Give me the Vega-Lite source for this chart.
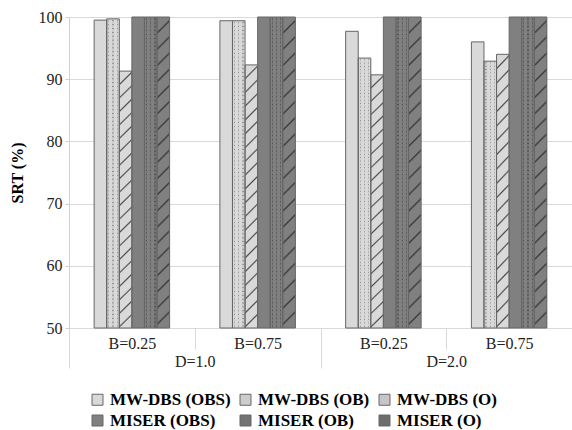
{
  "$schema": "https://vega.github.io/schema/vega-lite/v6.json",
  "width": 503,
  "height": 311,
  "autosize": {"type": "none"},
  "padding": {"left": 69, "top": 17, "right": 0, "bottom": 102},
  "config": {"font": "Liberation Serif", "view": {"stroke": null},
    "axis": {"labelFont": "Liberation Serif", "titleFont": "Liberation Serif"},
    "legend": {"labelFont": "Liberation Serif", "titleFont": "Liberation Serif"}},
  "data": {
    "values": [
      {"grp": "D=1.0|B=0.25", "D": "D=1.0", "series": "MW-DBS (OBS)", "value": 99.5},
      {"grp": "D=1.0|B=0.25", "D": "D=1.0", "series": "MW-DBS (OB)", "value": 99.7},
      {"grp": "D=1.0|B=0.25", "D": "D=1.0", "series": "MW-DBS (O)", "value": 91.3},
      {"grp": "D=1.0|B=0.25", "D": "D=1.0", "series": "MISER (OBS)", "value": 100},
      {"grp": "D=1.0|B=0.25", "D": "D=1.0", "series": "MISER (OB)", "value": 100},
      {"grp": "D=1.0|B=0.25", "D": "D=1.0", "series": "MISER (O)", "value": 100},
      {"grp": "D=1.0|B=0.75", "D": "D=1.0", "series": "MW-DBS (OBS)", "value": 99.4},
      {"grp": "D=1.0|B=0.75", "D": "D=1.0", "series": "MW-DBS (OB)", "value": 99.4},
      {"grp": "D=1.0|B=0.75", "D": "D=1.0", "series": "MW-DBS (O)", "value": 92.3},
      {"grp": "D=1.0|B=0.75", "D": "D=1.0", "series": "MISER (OBS)", "value": 100},
      {"grp": "D=1.0|B=0.75", "D": "D=1.0", "series": "MISER (OB)", "value": 100},
      {"grp": "D=1.0|B=0.75", "D": "D=1.0", "series": "MISER (O)", "value": 100},
      {"grp": "D=2.0|B=0.25", "D": "D=2.0", "series": "MW-DBS (OBS)", "value": 97.7},
      {"grp": "D=2.0|B=0.25", "D": "D=2.0", "series": "MW-DBS (OB)", "value": 93.4},
      {"grp": "D=2.0|B=0.25", "D": "D=2.0", "series": "MW-DBS (O)", "value": 90.7},
      {"grp": "D=2.0|B=0.25", "D": "D=2.0", "series": "MISER (OBS)", "value": 100},
      {"grp": "D=2.0|B=0.25", "D": "D=2.0", "series": "MISER (OB)", "value": 100},
      {"grp": "D=2.0|B=0.25", "D": "D=2.0", "series": "MISER (O)", "value": 100},
      {"grp": "D=2.0|B=0.75", "D": "D=2.0", "series": "MW-DBS (OBS)", "value": 96.0},
      {"grp": "D=2.0|B=0.75", "D": "D=2.0", "series": "MW-DBS (OB)", "value": 92.9},
      {"grp": "D=2.0|B=0.75", "D": "D=2.0", "series": "MW-DBS (O)", "value": 94.0},
      {"grp": "D=2.0|B=0.75", "D": "D=2.0", "series": "MISER (OBS)", "value": 100},
      {"grp": "D=2.0|B=0.75", "D": "D=2.0", "series": "MISER (OB)", "value": 100},
      {"grp": "D=2.0|B=0.75", "D": "D=2.0", "series": "MISER (O)", "value": 100}
    ]
  },
  "layer": [
    {
      "encoding": {
        "x": {"field": "grp", "type": "nominal", "scale": {"domain": ["D=1.0|B=0.25", "D=1.0|B=0.75", "D=2.0|B=0.25", "D=2.0|B=0.75"], "paddingInner": 0.4, "paddingOuter": 0.2}, "axis": null},
        "xOffset": {"field": "series", "type": "nominal", "scale": {"domain": ["MW-DBS (OBS)", "MW-DBS (OB)", "MW-DBS (O)", "MISER (OBS)", "MISER (OB)", "MISER (O)"]}},
        "y": {"field": "value", "type": "quantitative", "scale": {"domain": [50, 100]},
          "axis": {"values": [50, 60, 70, 80, 90, 100], "title": "SRT (%)", "titleFont": "Liberation Serif", "titleFontSize": 16, "titleFontWeight": "bold", "titleColor": "#000", "titlePadding": 13, "labelFont": "Liberation Serif", "labelFontSize": 16, "labelColor": "#222", "labelPadding": 3, "tickSize": 4, "tickColor": "#d0d0d0", "domainColor": "#d0d0d0", "grid": true, "gridColor": "#d9d9d9"}},
        "y2": {"datum": 50}
      },
      "layer": [
        {
          "mark": {"type": "bar"},
          "encoding": {
            "color": {"field": "series", "type": "nominal",
              "scale": {"domain": ["MW-DBS (OBS)", "MW-DBS (OB)", "MW-DBS (O)", "MISER (OBS)", "MISER (OB)", "MISER (O)"],
                "range": ["#d9d9d9", "#cdcdcd", "#c6c6c6", "#808080", "#737373", "#6c6c6c"]},
              "legend": {"orient": "none", "legendX": 20, "legendY": 374, "direction": "horizontal", "columns": 3, "title": null, "symbolType": "square", "symbolSize": 121, "symbolStrokeColor": "#666", "symbolStrokeWidth": 1, "labelFont": "Liberation Serif", "labelFontSize": 17, "labelFontWeight": "bold", "labelColor": "#000", "columnPadding": 6, "rowPadding": 3, "labelOffset": 4, "padding": 0}}
          }
        },
        {
          "transform": [{"filter": "datum.series === 'MW-DBS (OB)' || datum.series === 'MISER (OB)'"}],
          "mark": {"type": "bar", "fill": {"gradient": "linear", "x1": 0, "y1": 0, "x2": 0, "y2": 1, "stops": [
            {"offset": 0, "color": "rgba(0,0,0,0)"},
            {"offset": 0.00325, "color": "rgba(0,0,0,0)"}, {"offset": 0.00625, "color": "rgba(0,0,0,0.3)"}, {"offset": 0.00925, "color": "rgba(0,0,0,0)"},
            {"offset": 0.01575, "color": "rgba(0,0,0,0)"}, {"offset": 0.01875, "color": "rgba(0,0,0,0.3)"}, {"offset": 0.02175, "color": "rgba(0,0,0,0)"},
            {"offset": 0.02825, "color": "rgba(0,0,0,0)"}, {"offset": 0.03125, "color": "rgba(0,0,0,0.3)"}, {"offset": 0.03425, "color": "rgba(0,0,0,0)"},
            {"offset": 0.04075, "color": "rgba(0,0,0,0)"}, {"offset": 0.04375, "color": "rgba(0,0,0,0.3)"}, {"offset": 0.04675, "color": "rgba(0,0,0,0)"},
            {"offset": 0.05325, "color": "rgba(0,0,0,0)"}, {"offset": 0.05625, "color": "rgba(0,0,0,0.3)"}, {"offset": 0.05925, "color": "rgba(0,0,0,0)"},
            {"offset": 0.06575, "color": "rgba(0,0,0,0)"}, {"offset": 0.06875, "color": "rgba(0,0,0,0.3)"}, {"offset": 0.07175, "color": "rgba(0,0,0,0)"},
            {"offset": 0.07825, "color": "rgba(0,0,0,0)"}, {"offset": 0.08125, "color": "rgba(0,0,0,0.3)"}, {"offset": 0.08425, "color": "rgba(0,0,0,0)"},
            {"offset": 0.09075, "color": "rgba(0,0,0,0)"}, {"offset": 0.09375, "color": "rgba(0,0,0,0.3)"}, {"offset": 0.09675, "color": "rgba(0,0,0,0)"},
            {"offset": 0.10325, "color": "rgba(0,0,0,0)"}, {"offset": 0.10625, "color": "rgba(0,0,0,0.3)"}, {"offset": 0.10925, "color": "rgba(0,0,0,0)"},
            {"offset": 0.11575, "color": "rgba(0,0,0,0)"}, {"offset": 0.11875, "color": "rgba(0,0,0,0.3)"}, {"offset": 0.12175, "color": "rgba(0,0,0,0)"},
            {"offset": 0.12825, "color": "rgba(0,0,0,0)"}, {"offset": 0.13125, "color": "rgba(0,0,0,0.3)"}, {"offset": 0.13425, "color": "rgba(0,0,0,0)"},
            {"offset": 0.14075, "color": "rgba(0,0,0,0)"}, {"offset": 0.14375, "color": "rgba(0,0,0,0.3)"}, {"offset": 0.14675, "color": "rgba(0,0,0,0)"},
            {"offset": 0.15325, "color": "rgba(0,0,0,0)"}, {"offset": 0.15625, "color": "rgba(0,0,0,0.3)"}, {"offset": 0.15925, "color": "rgba(0,0,0,0)"},
            {"offset": 0.16575, "color": "rgba(0,0,0,0)"}, {"offset": 0.16875, "color": "rgba(0,0,0,0.3)"}, {"offset": 0.17175, "color": "rgba(0,0,0,0)"},
            {"offset": 0.17825, "color": "rgba(0,0,0,0)"}, {"offset": 0.18125, "color": "rgba(0,0,0,0.3)"}, {"offset": 0.18425, "color": "rgba(0,0,0,0)"},
            {"offset": 0.19075, "color": "rgba(0,0,0,0)"}, {"offset": 0.19375, "color": "rgba(0,0,0,0.3)"}, {"offset": 0.19675, "color": "rgba(0,0,0,0)"},
            {"offset": 0.20325, "color": "rgba(0,0,0,0)"}, {"offset": 0.20625, "color": "rgba(0,0,0,0.3)"}, {"offset": 0.20925, "color": "rgba(0,0,0,0)"},
            {"offset": 0.21575, "color": "rgba(0,0,0,0)"}, {"offset": 0.21875, "color": "rgba(0,0,0,0.3)"}, {"offset": 0.22175, "color": "rgba(0,0,0,0)"},
            {"offset": 0.22825, "color": "rgba(0,0,0,0)"}, {"offset": 0.23125, "color": "rgba(0,0,0,0.3)"}, {"offset": 0.23425, "color": "rgba(0,0,0,0)"},
            {"offset": 0.24075, "color": "rgba(0,0,0,0)"}, {"offset": 0.24375, "color": "rgba(0,0,0,0.3)"}, {"offset": 0.24675, "color": "rgba(0,0,0,0)"},
            {"offset": 0.25325, "color": "rgba(0,0,0,0)"}, {"offset": 0.25625, "color": "rgba(0,0,0,0.3)"}, {"offset": 0.25925, "color": "rgba(0,0,0,0)"},
            {"offset": 0.26575, "color": "rgba(0,0,0,0)"}, {"offset": 0.26875, "color": "rgba(0,0,0,0.3)"}, {"offset": 0.27175, "color": "rgba(0,0,0,0)"},
            {"offset": 0.27825, "color": "rgba(0,0,0,0)"}, {"offset": 0.28125, "color": "rgba(0,0,0,0.3)"}, {"offset": 0.28425, "color": "rgba(0,0,0,0)"},
            {"offset": 0.29075, "color": "rgba(0,0,0,0)"}, {"offset": 0.29375, "color": "rgba(0,0,0,0.3)"}, {"offset": 0.29675, "color": "rgba(0,0,0,0)"},
            {"offset": 0.30325, "color": "rgba(0,0,0,0)"}, {"offset": 0.30625, "color": "rgba(0,0,0,0.3)"}, {"offset": 0.30925, "color": "rgba(0,0,0,0)"},
            {"offset": 0.31575, "color": "rgba(0,0,0,0)"}, {"offset": 0.31875, "color": "rgba(0,0,0,0.3)"}, {"offset": 0.32175, "color": "rgba(0,0,0,0)"},
            {"offset": 0.32825, "color": "rgba(0,0,0,0)"}, {"offset": 0.33125, "color": "rgba(0,0,0,0.3)"}, {"offset": 0.33425, "color": "rgba(0,0,0,0)"},
            {"offset": 0.34075, "color": "rgba(0,0,0,0)"}, {"offset": 0.34375, "color": "rgba(0,0,0,0.3)"}, {"offset": 0.34675, "color": "rgba(0,0,0,0)"},
            {"offset": 0.35325, "color": "rgba(0,0,0,0)"}, {"offset": 0.35625, "color": "rgba(0,0,0,0.3)"}, {"offset": 0.35925, "color": "rgba(0,0,0,0)"},
            {"offset": 0.36575, "color": "rgba(0,0,0,0)"}, {"offset": 0.36875, "color": "rgba(0,0,0,0.3)"}, {"offset": 0.37175, "color": "rgba(0,0,0,0)"},
            {"offset": 0.37825, "color": "rgba(0,0,0,0)"}, {"offset": 0.38125, "color": "rgba(0,0,0,0.3)"}, {"offset": 0.38425, "color": "rgba(0,0,0,0)"},
            {"offset": 0.39075, "color": "rgba(0,0,0,0)"}, {"offset": 0.39375, "color": "rgba(0,0,0,0.3)"}, {"offset": 0.39675, "color": "rgba(0,0,0,0)"},
            {"offset": 0.40325, "color": "rgba(0,0,0,0)"}, {"offset": 0.40625, "color": "rgba(0,0,0,0.3)"}, {"offset": 0.40925, "color": "rgba(0,0,0,0)"},
            {"offset": 0.41575, "color": "rgba(0,0,0,0)"}, {"offset": 0.41875, "color": "rgba(0,0,0,0.3)"}, {"offset": 0.42175, "color": "rgba(0,0,0,0)"},
            {"offset": 0.42825, "color": "rgba(0,0,0,0)"}, {"offset": 0.43125, "color": "rgba(0,0,0,0.3)"}, {"offset": 0.43425, "color": "rgba(0,0,0,0)"},
            {"offset": 0.44075, "color": "rgba(0,0,0,0)"}, {"offset": 0.44375, "color": "rgba(0,0,0,0.3)"}, {"offset": 0.44675, "color": "rgba(0,0,0,0)"},
            {"offset": 0.45325, "color": "rgba(0,0,0,0)"}, {"offset": 0.45625, "color": "rgba(0,0,0,0.3)"}, {"offset": 0.45925, "color": "rgba(0,0,0,0)"},
            {"offset": 0.46575, "color": "rgba(0,0,0,0)"}, {"offset": 0.46875, "color": "rgba(0,0,0,0.3)"}, {"offset": 0.47175, "color": "rgba(0,0,0,0)"},
            {"offset": 0.47825, "color": "rgba(0,0,0,0)"}, {"offset": 0.48125, "color": "rgba(0,0,0,0.3)"}, {"offset": 0.48425, "color": "rgba(0,0,0,0)"},
            {"offset": 0.49075, "color": "rgba(0,0,0,0)"}, {"offset": 0.49375, "color": "rgba(0,0,0,0.3)"}, {"offset": 0.49675, "color": "rgba(0,0,0,0)"},
            {"offset": 0.50325, "color": "rgba(0,0,0,0)"}, {"offset": 0.50625, "color": "rgba(0,0,0,0.3)"}, {"offset": 0.50925, "color": "rgba(0,0,0,0)"},
            {"offset": 0.51575, "color": "rgba(0,0,0,0)"}, {"offset": 0.51875, "color": "rgba(0,0,0,0.3)"}, {"offset": 0.52175, "color": "rgba(0,0,0,0)"},
            {"offset": 0.52825, "color": "rgba(0,0,0,0)"}, {"offset": 0.53125, "color": "rgba(0,0,0,0.3)"}, {"offset": 0.53425, "color": "rgba(0,0,0,0)"},
            {"offset": 0.54075, "color": "rgba(0,0,0,0)"}, {"offset": 0.54375, "color": "rgba(0,0,0,0.3)"}, {"offset": 0.54675, "color": "rgba(0,0,0,0)"},
            {"offset": 0.55325, "color": "rgba(0,0,0,0)"}, {"offset": 0.55625, "color": "rgba(0,0,0,0.3)"}, {"offset": 0.55925, "color": "rgba(0,0,0,0)"},
            {"offset": 0.56575, "color": "rgba(0,0,0,0)"}, {"offset": 0.56875, "color": "rgba(0,0,0,0.3)"}, {"offset": 0.57175, "color": "rgba(0,0,0,0)"},
            {"offset": 0.57825, "color": "rgba(0,0,0,0)"}, {"offset": 0.58125, "color": "rgba(0,0,0,0.3)"}, {"offset": 0.58425, "color": "rgba(0,0,0,0)"},
            {"offset": 0.59075, "color": "rgba(0,0,0,0)"}, {"offset": 0.59375, "color": "rgba(0,0,0,0.3)"}, {"offset": 0.59675, "color": "rgba(0,0,0,0)"},
            {"offset": 0.60325, "color": "rgba(0,0,0,0)"}, {"offset": 0.60625, "color": "rgba(0,0,0,0.3)"}, {"offset": 0.60925, "color": "rgba(0,0,0,0)"},
            {"offset": 0.61575, "color": "rgba(0,0,0,0)"}, {"offset": 0.61875, "color": "rgba(0,0,0,0.3)"}, {"offset": 0.62175, "color": "rgba(0,0,0,0)"},
            {"offset": 0.62825, "color": "rgba(0,0,0,0)"}, {"offset": 0.63125, "color": "rgba(0,0,0,0.3)"}, {"offset": 0.63425, "color": "rgba(0,0,0,0)"},
            {"offset": 0.64075, "color": "rgba(0,0,0,0)"}, {"offset": 0.64375, "color": "rgba(0,0,0,0.3)"}, {"offset": 0.64675, "color": "rgba(0,0,0,0)"},
            {"offset": 0.65325, "color": "rgba(0,0,0,0)"}, {"offset": 0.65625, "color": "rgba(0,0,0,0.3)"}, {"offset": 0.65925, "color": "rgba(0,0,0,0)"},
            {"offset": 0.66575, "color": "rgba(0,0,0,0)"}, {"offset": 0.66875, "color": "rgba(0,0,0,0.3)"}, {"offset": 0.67175, "color": "rgba(0,0,0,0)"},
            {"offset": 0.67825, "color": "rgba(0,0,0,0)"}, {"offset": 0.68125, "color": "rgba(0,0,0,0.3)"}, {"offset": 0.68425, "color": "rgba(0,0,0,0)"},
            {"offset": 0.69075, "color": "rgba(0,0,0,0)"}, {"offset": 0.69375, "color": "rgba(0,0,0,0.3)"}, {"offset": 0.69675, "color": "rgba(0,0,0,0)"},
            {"offset": 0.70325, "color": "rgba(0,0,0,0)"}, {"offset": 0.70625, "color": "rgba(0,0,0,0.3)"}, {"offset": 0.70925, "color": "rgba(0,0,0,0)"},
            {"offset": 0.71575, "color": "rgba(0,0,0,0)"}, {"offset": 0.71875, "color": "rgba(0,0,0,0.3)"}, {"offset": 0.72175, "color": "rgba(0,0,0,0)"},
            {"offset": 0.72825, "color": "rgba(0,0,0,0)"}, {"offset": 0.73125, "color": "rgba(0,0,0,0.3)"}, {"offset": 0.73425, "color": "rgba(0,0,0,0)"},
            {"offset": 0.74075, "color": "rgba(0,0,0,0)"}, {"offset": 0.74375, "color": "rgba(0,0,0,0.3)"}, {"offset": 0.74675, "color": "rgba(0,0,0,0)"},
            {"offset": 0.75325, "color": "rgba(0,0,0,0)"}, {"offset": 0.75625, "color": "rgba(0,0,0,0.3)"}, {"offset": 0.75925, "color": "rgba(0,0,0,0)"},
            {"offset": 0.76575, "color": "rgba(0,0,0,0)"}, {"offset": 0.76875, "color": "rgba(0,0,0,0.3)"}, {"offset": 0.77175, "color": "rgba(0,0,0,0)"},
            {"offset": 0.77825, "color": "rgba(0,0,0,0)"}, {"offset": 0.78125, "color": "rgba(0,0,0,0.3)"}, {"offset": 0.78425, "color": "rgba(0,0,0,0)"},
            {"offset": 0.79075, "color": "rgba(0,0,0,0)"}, {"offset": 0.79375, "color": "rgba(0,0,0,0.3)"}, {"offset": 0.79675, "color": "rgba(0,0,0,0)"},
            {"offset": 0.80325, "color": "rgba(0,0,0,0)"}, {"offset": 0.80625, "color": "rgba(0,0,0,0.3)"}, {"offset": 0.80925, "color": "rgba(0,0,0,0)"},
            {"offset": 0.81575, "color": "rgba(0,0,0,0)"}, {"offset": 0.81875, "color": "rgba(0,0,0,0.3)"}, {"offset": 0.82175, "color": "rgba(0,0,0,0)"},
            {"offset": 0.82825, "color": "rgba(0,0,0,0)"}, {"offset": 0.83125, "color": "rgba(0,0,0,0.3)"}, {"offset": 0.83425, "color": "rgba(0,0,0,0)"},
            {"offset": 0.84075, "color": "rgba(0,0,0,0)"}, {"offset": 0.84375, "color": "rgba(0,0,0,0.3)"}, {"offset": 0.84675, "color": "rgba(0,0,0,0)"},
            {"offset": 0.85325, "color": "rgba(0,0,0,0)"}, {"offset": 0.85625, "color": "rgba(0,0,0,0.3)"}, {"offset": 0.85925, "color": "rgba(0,0,0,0)"},
            {"offset": 0.86575, "color": "rgba(0,0,0,0)"}, {"offset": 0.86875, "color": "rgba(0,0,0,0.3)"}, {"offset": 0.87175, "color": "rgba(0,0,0,0)"},
            {"offset": 0.87825, "color": "rgba(0,0,0,0)"}, {"offset": 0.88125, "color": "rgba(0,0,0,0.3)"}, {"offset": 0.88425, "color": "rgba(0,0,0,0)"},
            {"offset": 0.89075, "color": "rgba(0,0,0,0)"}, {"offset": 0.89375, "color": "rgba(0,0,0,0.3)"}, {"offset": 0.89675, "color": "rgba(0,0,0,0)"},
            {"offset": 0.90325, "color": "rgba(0,0,0,0)"}, {"offset": 0.90625, "color": "rgba(0,0,0,0.3)"}, {"offset": 0.90925, "color": "rgba(0,0,0,0)"},
            {"offset": 0.91575, "color": "rgba(0,0,0,0)"}, {"offset": 0.91875, "color": "rgba(0,0,0,0.3)"}, {"offset": 0.92175, "color": "rgba(0,0,0,0)"},
            {"offset": 0.92825, "color": "rgba(0,0,0,0)"}, {"offset": 0.93125, "color": "rgba(0,0,0,0.3)"}, {"offset": 0.93425, "color": "rgba(0,0,0,0)"},
            {"offset": 0.94075, "color": "rgba(0,0,0,0)"}, {"offset": 0.94375, "color": "rgba(0,0,0,0.3)"}, {"offset": 0.94675, "color": "rgba(0,0,0,0)"},
            {"offset": 0.95325, "color": "rgba(0,0,0,0)"}, {"offset": 0.95625, "color": "rgba(0,0,0,0.3)"}, {"offset": 0.95925, "color": "rgba(0,0,0,0)"},
            {"offset": 0.96575, "color": "rgba(0,0,0,0)"}, {"offset": 0.96875, "color": "rgba(0,0,0,0.3)"}, {"offset": 0.97175, "color": "rgba(0,0,0,0)"},
            {"offset": 0.97825, "color": "rgba(0,0,0,0)"}, {"offset": 0.98125, "color": "rgba(0,0,0,0.3)"}, {"offset": 0.98425, "color": "rgba(0,0,0,0)"},
            {"offset": 0.99075, "color": "rgba(0,0,0,0)"}, {"offset": 0.99375, "color": "rgba(0,0,0,0.3)"}, {"offset": 0.99675, "color": "rgba(0,0,0,0)"},
            {"offset": 1, "color": "rgba(0,0,0,0)"}
          ]}}
        },
        {
          "transform": [{"filter": "datum.series === 'MW-DBS (OB)'"}],
          "mark": {"type": "bar", "fill": {"gradient": "linear", "x1": 0, "y1": 0, "x2": 1, "y2": 0, "stops": [
            {"offset": 0, "color": "#d9d9d9"}, {"offset": 0.119, "color": "#d9d9d9"}, {"offset": 0.119, "color": "rgba(0,0,0,0)"}, {"offset": 0.214, "color": "rgba(0,0,0,0)"}, {"offset": 0.214, "color": "#d9d9d9"},
            {"offset": 0.452, "color": "#d9d9d9"}, {"offset": 0.452, "color": "rgba(0,0,0,0)"}, {"offset": 0.548, "color": "rgba(0,0,0,0)"}, {"offset": 0.548, "color": "#d9d9d9"},
            {"offset": 0.786, "color": "#d9d9d9"}, {"offset": 0.786, "color": "rgba(0,0,0,0)"}, {"offset": 0.881, "color": "rgba(0,0,0,0)"}, {"offset": 0.881, "color": "#d9d9d9"}, {"offset": 1, "color": "#d9d9d9"}
          ]}}
        },
        {
          "transform": [{"filter": "datum.series === 'MISER (OB)'"}],
          "mark": {"type": "bar", "fill": {"gradient": "linear", "x1": 0, "y1": 0, "x2": 1, "y2": 0, "stops": [
            {"offset": 0, "color": "#808080"}, {"offset": 0.119, "color": "#808080"}, {"offset": 0.119, "color": "rgba(0,0,0,0)"}, {"offset": 0.214, "color": "rgba(0,0,0,0)"}, {"offset": 0.214, "color": "#808080"},
            {"offset": 0.452, "color": "#808080"}, {"offset": 0.452, "color": "rgba(0,0,0,0)"}, {"offset": 0.548, "color": "rgba(0,0,0,0)"}, {"offset": 0.548, "color": "#808080"},
            {"offset": 0.786, "color": "#808080"}, {"offset": 0.786, "color": "rgba(0,0,0,0)"}, {"offset": 0.881, "color": "rgba(0,0,0,0)"}, {"offset": 0.881, "color": "#808080"}, {"offset": 1, "color": "#808080"}
          ]}}
        },
        {
          "transform": [{"filter": "datum.series === 'MW-DBS (O)'"}],
          "mark": {"type": "bar", "fill": {"gradient": "linear", "x1": 0, "y1": 0, "x2": 0.0502, "y2": 1.0457, "stops": [
            {"offset": 0, "color": "#d9d9d9"},
            {"offset": 0.044, "color": "#d9d9d9"}, {"offset": 0.05, "color": "#4d4d4d"}, {"offset": 0.056, "color": "#d9d9d9"},
            {"offset": 0.094, "color": "#d9d9d9"}, {"offset": 0.1, "color": "#4d4d4d"}, {"offset": 0.106, "color": "#d9d9d9"},
            {"offset": 0.144, "color": "#d9d9d9"}, {"offset": 0.15, "color": "#4d4d4d"}, {"offset": 0.156, "color": "#d9d9d9"},
            {"offset": 0.194, "color": "#d9d9d9"}, {"offset": 0.2, "color": "#4d4d4d"}, {"offset": 0.206, "color": "#d9d9d9"},
            {"offset": 0.244, "color": "#d9d9d9"}, {"offset": 0.25, "color": "#4d4d4d"}, {"offset": 0.256, "color": "#d9d9d9"},
            {"offset": 0.294, "color": "#d9d9d9"}, {"offset": 0.3, "color": "#4d4d4d"}, {"offset": 0.306, "color": "#d9d9d9"},
            {"offset": 0.344, "color": "#d9d9d9"}, {"offset": 0.35, "color": "#4d4d4d"}, {"offset": 0.356, "color": "#d9d9d9"},
            {"offset": 0.394, "color": "#d9d9d9"}, {"offset": 0.4, "color": "#4d4d4d"}, {"offset": 0.406, "color": "#d9d9d9"},
            {"offset": 0.444, "color": "#d9d9d9"}, {"offset": 0.45, "color": "#4d4d4d"}, {"offset": 0.456, "color": "#d9d9d9"},
            {"offset": 0.494, "color": "#d9d9d9"}, {"offset": 0.5, "color": "#4d4d4d"}, {"offset": 0.506, "color": "#d9d9d9"},
            {"offset": 0.544, "color": "#d9d9d9"}, {"offset": 0.55, "color": "#4d4d4d"}, {"offset": 0.556, "color": "#d9d9d9"},
            {"offset": 0.594, "color": "#d9d9d9"}, {"offset": 0.6, "color": "#4d4d4d"}, {"offset": 0.606, "color": "#d9d9d9"},
            {"offset": 0.644, "color": "#d9d9d9"}, {"offset": 0.65, "color": "#4d4d4d"}, {"offset": 0.656, "color": "#d9d9d9"},
            {"offset": 0.694, "color": "#d9d9d9"}, {"offset": 0.7, "color": "#4d4d4d"}, {"offset": 0.706, "color": "#d9d9d9"},
            {"offset": 0.744, "color": "#d9d9d9"}, {"offset": 0.75, "color": "#4d4d4d"}, {"offset": 0.756, "color": "#d9d9d9"},
            {"offset": 0.794, "color": "#d9d9d9"}, {"offset": 0.8, "color": "#4d4d4d"}, {"offset": 0.806, "color": "#d9d9d9"},
            {"offset": 0.844, "color": "#d9d9d9"}, {"offset": 0.85, "color": "#4d4d4d"}, {"offset": 0.856, "color": "#d9d9d9"},
            {"offset": 0.894, "color": "#d9d9d9"}, {"offset": 0.9, "color": "#4d4d4d"}, {"offset": 0.906, "color": "#d9d9d9"},
            {"offset": 0.944, "color": "#d9d9d9"}, {"offset": 0.95, "color": "#4d4d4d"}, {"offset": 0.956, "color": "#d9d9d9"},
            {"offset": 1, "color": "#d9d9d9"}
          ]}}
        },
        {
          "transform": [{"filter": "datum.series === 'MISER (O)'"}],
          "mark": {"type": "bar", "fill": {"gradient": "linear", "x1": 0, "y1": 0, "x2": 0.042, "y2": 1.0387, "stops": [
            {"offset": 0, "color": "#808080"},
            {"offset": 0.044, "color": "#808080"}, {"offset": 0.05, "color": "#3a3a3a"}, {"offset": 0.056, "color": "#808080"},
            {"offset": 0.094, "color": "#808080"}, {"offset": 0.1, "color": "#3a3a3a"}, {"offset": 0.106, "color": "#808080"},
            {"offset": 0.144, "color": "#808080"}, {"offset": 0.15, "color": "#3a3a3a"}, {"offset": 0.156, "color": "#808080"},
            {"offset": 0.194, "color": "#808080"}, {"offset": 0.2, "color": "#3a3a3a"}, {"offset": 0.206, "color": "#808080"},
            {"offset": 0.244, "color": "#808080"}, {"offset": 0.25, "color": "#3a3a3a"}, {"offset": 0.256, "color": "#808080"},
            {"offset": 0.294, "color": "#808080"}, {"offset": 0.3, "color": "#3a3a3a"}, {"offset": 0.306, "color": "#808080"},
            {"offset": 0.344, "color": "#808080"}, {"offset": 0.35, "color": "#3a3a3a"}, {"offset": 0.356, "color": "#808080"},
            {"offset": 0.394, "color": "#808080"}, {"offset": 0.4, "color": "#3a3a3a"}, {"offset": 0.406, "color": "#808080"},
            {"offset": 0.444, "color": "#808080"}, {"offset": 0.45, "color": "#3a3a3a"}, {"offset": 0.456, "color": "#808080"},
            {"offset": 0.494, "color": "#808080"}, {"offset": 0.5, "color": "#3a3a3a"}, {"offset": 0.506, "color": "#808080"},
            {"offset": 0.544, "color": "#808080"}, {"offset": 0.55, "color": "#3a3a3a"}, {"offset": 0.556, "color": "#808080"},
            {"offset": 0.594, "color": "#808080"}, {"offset": 0.6, "color": "#3a3a3a"}, {"offset": 0.606, "color": "#808080"},
            {"offset": 0.644, "color": "#808080"}, {"offset": 0.65, "color": "#3a3a3a"}, {"offset": 0.656, "color": "#808080"},
            {"offset": 0.694, "color": "#808080"}, {"offset": 0.7, "color": "#3a3a3a"}, {"offset": 0.706, "color": "#808080"},
            {"offset": 0.744, "color": "#808080"}, {"offset": 0.75, "color": "#3a3a3a"}, {"offset": 0.756, "color": "#808080"},
            {"offset": 0.794, "color": "#808080"}, {"offset": 0.8, "color": "#3a3a3a"}, {"offset": 0.806, "color": "#808080"},
            {"offset": 0.844, "color": "#808080"}, {"offset": 0.85, "color": "#3a3a3a"}, {"offset": 0.856, "color": "#808080"},
            {"offset": 0.894, "color": "#808080"}, {"offset": 0.9, "color": "#3a3a3a"}, {"offset": 0.906, "color": "#808080"},
            {"offset": 0.944, "color": "#808080"}, {"offset": 0.95, "color": "#3a3a3a"}, {"offset": 0.956, "color": "#808080"},
            {"offset": 1, "color": "#808080"}
          ]}}
        },
        {
          "mark": {"type": "bar", "fill": "transparent", "stroke": "#666666", "strokeWidth": 1}
        }
      ]
    },
    {
      "mark": {"type": "rule", "opacity": 0},
      "encoding": {
        "x": {"field": "grp", "type": "nominal",
          "scale": {"type": "band", "domain": ["D=1.0|B=0.25", "D=1.0|B=0.75", "D=2.0|B=0.25", "D=2.0|B=0.75"], "paddingInner": 0, "paddingOuter": 0},
          "axis": {"orient": "bottom", "title": null, "labelExpr": "split(datum.label, '|')[1]", "labelAngle": 0, "labelFont": "Liberation Serif", "labelFontSize": 16, "labelColor": "#222", "tickBand": "extent", "tickSize": 21, "tickColor": "#d9d9d9", "domainColor": "#d9d9d9", "labelPadding": -14, "grid": false}}
      }
    },
    {
      "mark": {"type": "rule", "opacity": 0},
      "encoding": {
        "x": {"field": "D", "type": "nominal",
          "scale": {"type": "band", "domain": ["D=1.0", "D=2.0"], "paddingInner": 0, "paddingOuter": 0},
          "axis": {"orient": "bottom", "title": null, "labelAngle": 0, "labelFont": "Liberation Serif", "labelFontSize": 16, "labelColor": "#222", "tickBand": "extent", "tickSize": 40, "tickColor": "#d9d9d9", "domain": false, "labelPadding": -15, "grid": false}}
      }
    }
  ],
  "resolve": {"scale": {"x": "independent"}, "axis": {"x": "independent"}}
}
